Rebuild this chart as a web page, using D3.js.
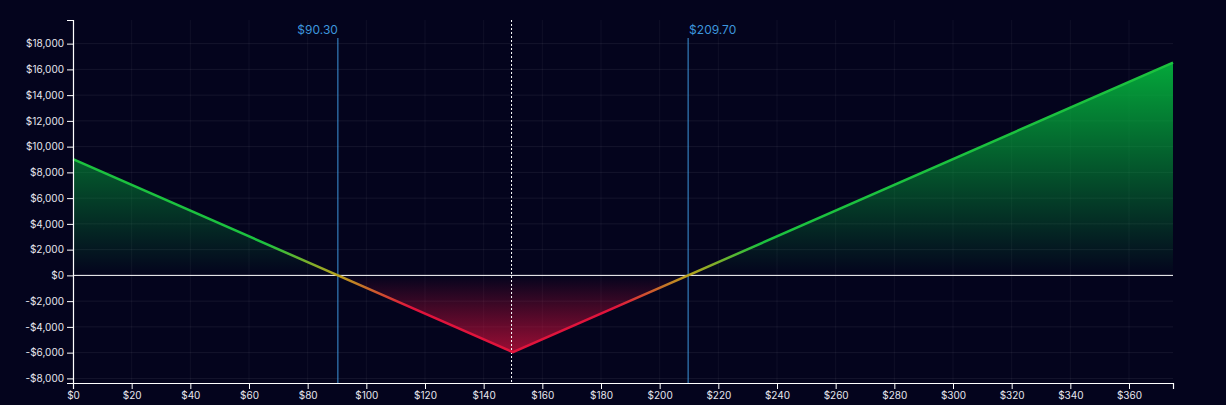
<!DOCTYPE html>
<html><head><meta charset="utf-8">
<script src="https://cdn.jsdelivr.net/npm/d3@7"></script>
<style>
html,body{margin:0;padding:0;background:#04041d;}
svg{display:block;font-family:Inter, "Noto Sans", sans-serif;}
</style></head>
<body><svg id="c" width="1226" height="405"></svg>
<script>
const prices = [0, 90.30, 150, 209.70, 375];
const pnl = [9030, 0, -5970, 0, 16530];
const breakevens = [90.30, 209.70];
const currentPrice = 149.5;
const xTicks = d3.range(0, 361, 20);
const yTicks = d3.range(-8000, 18001, 2000);

const W = 1226, H = 405;
const m = {l: 73, r: 53, t: 20, b: 22};
const svg = d3.select("#c");
const x = d3.scaleLinear().domain([0, 375]).range([m.l, W - m.r]);
const yMin = d3.min(pnl) * 1.4, yMax = d3.max(pnl) * 1.2;
const y = d3.scaleLinear().domain([yMin, yMax]).range([H - m.b, m.t]);
const data = prices.map((p, i) => ({p, v: pnl[i]}));

const defs = svg.append("defs");
const lg = defs.append("linearGradient").attr("id", "lineG").attr("gradientUnits", "userSpaceOnUse")
  .attr("x1", 0).attr("x2", 0).attr("y1", y(2500)).attr("y2", y(-2500));
lg.append("stop").attr("offset", "0%").attr("stop-color", "#1cc23f");
lg.append("stop").attr("offset", "50%").attr("stop-color", "#b8a21e");
lg.append("stop").attr("offset", "100%").attr("stop-color", "#e0143c");

const gg = defs.append("linearGradient").attr("id", "greenG").attr("gradientUnits", "userSpaceOnUse")
  .attr("x1", 0).attr("x2", 0).attr("y1", y(d3.max(pnl))).attr("y2", y(0));
gg.append("stop").attr("offset", "0%").attr("stop-color", "#04b03c").attr("stop-opacity", 0.95);
gg.append("stop").attr("offset", "100%").attr("stop-color", "#04b03c").attr("stop-opacity", 0.0);
const rg = defs.append("linearGradient").attr("id", "redG").attr("gradientUnits", "userSpaceOnUse")
  .attr("x1", 0).attr("x2", 0).attr("y1", y(0)).attr("y2", y(d3.min(pnl)));
rg.append("stop").attr("offset", "0%").attr("stop-color", "#c0103a").attr("stop-opacity", 0.0);
rg.append("stop").attr("offset", "100%").attr("stop-color", "#c0103a").attr("stop-opacity", 0.8);

// grid
svg.append("g").selectAll("line").data(yTicks).join("line")
  .attr("x1", m.l).attr("x2", W - m.r).attr("y1", d => y(d)).attr("y2", d => y(d))
  .attr("stroke", "rgba(255,255,255,0.07)");
svg.append("g").selectAll("line").data(xTicks).join("line")
  .attr("x1", d => x(d)).attr("x2", d => x(d)).attr("y1", m.t).attr("y2", H - m.b)
  .attr("stroke", "rgba(255,255,255,0.05)");

// areas
const clipPos = defs.append("clipPath").attr("id", "pos");
clipPos.append("rect").attr("x", m.l).attr("y", 0).attr("width", W).attr("height", y(0));
const clipNeg = defs.append("clipPath").attr("id", "neg");
clipNeg.append("rect").attr("x", m.l).attr("y", y(0)).attr("width", W).attr("height", H);
const area = d3.area().x(d => x(d.p)).y0(y(0)).y1(d => y(d.v));
svg.append("path").datum(data).attr("d", area).attr("fill", "url(#greenG)").attr("clip-path", "url(#pos)");
svg.append("path").datum(data).attr("d", area).attr("fill", "url(#redG)").attr("clip-path", "url(#neg)");

// zero line
svg.append("line").attr("x1", m.l).attr("x2", W - m.r).attr("y1", y(0)).attr("y2", y(0))
  .attr("stroke", "#ffffff").attr("stroke-width", 1);

// current price dashed
svg.append("line").attr("x1", x(currentPrice)).attr("x2", x(currentPrice)).attr("y1", m.t).attr("y2", H - m.b)
  .attr("stroke", "#ffffff").attr("stroke-width", 1).attr("stroke-dasharray", "2,2");

// breakevens
breakevens.forEach((b, i) => {
  svg.append("line").attr("x1", x(b)).attr("x2", x(b)).attr("y1", 38).attr("y2", H - m.b)
    .attr("stroke", "#3d96dc").attr("stroke-width", 1);
  svg.append("text").attr("x", x(b) + (i === 0 ? 0 : 1)).attr("y", 34)
    .attr("text-anchor", i === 0 ? "end" : "start")
    .attr("fill", "#3d96dc").attr("font-size", 12)
    .text("$" + b.toFixed(2));
});

// payoff line
svg.append("path").datum(data).attr("d", d3.line().x(d => x(d.p)).y(d => y(d.v)))
  .attr("fill", "none").attr("stroke", "url(#lineG)").attr("stroke-width", 2.5)
  .attr("stroke-linejoin", "miter");

// axes
const fmtY = d => (d < 0 ? "-$" : "$") + d3.format(",")(Math.abs(d));
const ya = svg.append("g").attr("transform", `translate(${m.l},0)`)
  .call(d3.axisLeft(y).tickValues(yTicks).tickFormat(fmtY).tickSize(6).tickPadding(3));
const xa = svg.append("g").attr("transform", `translate(0,${H - m.b})`)
  .call(d3.axisBottom(x).tickValues(xTicks).tickFormat(d => "$" + d).tickSize(6).tickPadding(3));
[ya, xa].forEach(g => {
  g.select(".domain").attr("stroke", "#ffffff").attr("stroke-width", 1.2);
  g.selectAll(".tick line").attr("stroke", "#ffffff");
  g.selectAll(".tick text").attr("fill", "#e6e6ee").attr("font-size", 10).attr("font-family", "Inter, sans-serif");
});
</script></body></html>
